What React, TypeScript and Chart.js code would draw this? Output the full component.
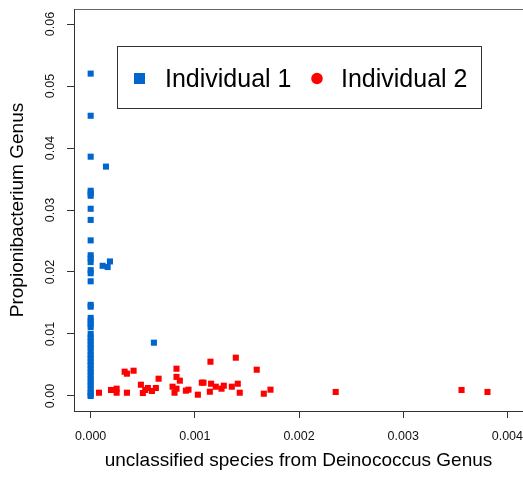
import React, { useEffect, useRef } from "react";
import { Chart, registerables } from "chart.js";

Chart.register(...registerables);

const SERIES_LABELS = ["Individual 1", "Individual 2"];
const SERIES_COLORS = ["#0066CC", "#FF0000"];

const IND1_X = [
  0, 0, 0, 0, 0, 0, 0, 0, 0, 0, 0, 0, 0, 0, 0, 0, 0, 0, 0, 0, 0,
  0, 0, 0, 0, 0, 0, 0, 0, 0, 0, 0, 0, 0, 0, 0, 0, 0, 0, 0, 0,
  0.000147, 0.000115, 0.000163, 0.000185, 0.000607,
];
const IND1_Y = [
  0.052, 0.0452, 0.0386, 0.0331, 0.0327, 0.0323, 0.0302, 0.0284, 0.0251, 0.0227, 0.0222,
  0.0216, 0.0203, 0.0198, 0.0185, 0.0147, 0.0144, 0.0126, 0.0121, 0.0116, 0.0111,
  0.01, 0.0094, 0.0089, 0.0083, 0.0078, 0.0072, 0.0066, 0.0061, 0.0055, 0.005,
  0.0044, 0.0039, 0.0033, 0.0028, 0.0022, 0.0017, 0.0011, 0.0006, 0.0002, 0.0,
  0.037, 0.021, 0.0208, 0.0217, 0.0086,
];

const IND2_X = [
  0.00008, 0.000195, 0.000249, 0.000249, 0.000326, 0.000348, 0.000348, 0.000412,
  0.000482, 0.000501, 0.000524, 0.000549, 0.000588, 0.000626, 0.000652, 0.000786,
  0.000805, 0.000824, 0.000824, 0.000856, 0.000824, 0.000914, 0.000939, 0.001029,
  0.001067, 0.001083, 0.00115, 0.001156, 0.001144, 0.001201, 0.001256, 0.001278,
  0.001355, 0.001393, 0.001412, 0.001431, 0.001594, 0.001662, 0.001726, 0.002352,
  0.00356, 0.003809,
];
const IND2_Y = [
  0.00053, 0.00097, 0.00118, 0.00053, 0.00392, 0.0036, 0.00053, 0.00408,
  0.00182, 0.00048, 0.00097, 0.00129, 0.00081, 0.00129, 0.00279, 0.0015,
  0.00053, 0.0044, 0.00308, 0.00247, 0.00118, 0.00086, 0.00102, 0.00021,
  0.00215, 0.00215, 0.00553, 0.00198, 0.00069, 0.0015, 0.00118, 0.00166,
  0.0015, 0.00618, 0.00198, 0.00053, 0.00424, 0.00037, 0.00102, 0.00065,
  0.00097, 0.00065,
];

const X_TICKS = [0, 0.001, 0.002, 0.003, 0.004];
const Y_TICKS = [0, 0.01, 0.02, 0.03, 0.04, 0.05, 0.06];
const X_RANGE = [-0.00016, 0.00415];
const Y_RANGE = [-0.00242, 0.06242];
const X_TITLE = "unclassified species from Deinococcus Genus";
const Y_TITLE = "Propionibacterium Genus";
const LEGEND_MARKERS = ["rect", "circle"];

const FONT = '"Liberation Sans", Arial, Helvetica, sans-serif';
const AXIS_COLOR = "#333";

const boxLegend = {
  id: "boxLegend",
  afterDraw(chart: any, _args: any, opts: any) {
    const ctx = chart.ctx;
    ctx.save();
    ctx.strokeStyle = "#333";
    ctx.lineWidth = 1;
    ctx.strokeRect(opts.box[0] + 0.5, opts.box[1] + 0.5, opts.box[2], opts.box[3]);
    ctx.font = `${opts.fontSize}px ${FONT}`;
    ctx.textBaseline = "alphabetic";
    ctx.textAlign = "left";
    chart.data.datasets.forEach((ds: any, i: number) => {
      const it = opts.items[i];
      ctx.fillStyle = ds.backgroundColor;
      if (it.marker === "rect") {
        ctx.fillRect(it.mx - it.size / 2, it.my - it.size / 2, it.size, it.size);
      } else {
        ctx.beginPath();
        ctx.arc(it.mx, it.my, it.size / 2, 0, Math.PI * 2);
        ctx.fill();
      }
      ctx.fillStyle = "#000";
      ctx.fillText(ds.label, it.tx, opts.baseline);
    });
    ctx.restore();
  },
};

const noPad = (s: any) => {
  s.paddingLeft = 0;
  s.paddingRight = 0;
  s.paddingTop = 0;
  s.paddingBottom = 0;
};

export default function App() {
  const ref = useRef<HTMLCanvasElement | null>(null);

  useEffect(() => {
    if (!ref.current) return;
    const ind1 = IND1_X.map((x, i) => ({ x, y: IND1_Y[i] }));
    const ind2 = IND2_X.map((x, i) => ({ x, y: IND2_Y[i] }));
    const chart = new Chart(ref.current, {
      type: "scatter",
      data: {
        datasets: [
          {
            label: SERIES_LABELS[0],
            data: ind1,
            backgroundColor: SERIES_COLORS[0],
            pointStyle: "rect",
            pointRadius: 4.3,
            pointBorderWidth: 0,
            order: 1,
          },
          {
            label: SERIES_LABELS[1],
            data: ind2,
            backgroundColor: SERIES_COLORS[1],
            pointStyle: "rect",
            pointRadius: 4.3,
            pointBorderWidth: 0,
            order: 0,
          },
        ],
      },
      options: {
        animation: false,
        responsive: false,
        devicePixelRatio: 1,
        layout: { autoPadding: false, padding: { left: 0, top: 9, right: 0, bottom: 0 } },
        plugins: {
          legend: { display: false },
          tooltip: { enabled: false },
          boxLegend: {
            box: [117, 46, 364, 62],
            fontSize: 25,
            baseline: 87,
            items: [
              { marker: LEGEND_MARKERS[0], mx: 139.5, my: 78.5, size: 11, tx: 165 },
              { marker: LEGEND_MARKERS[1], mx: 317, my: 78.5, size: 11.5, tx: 341 },
            ],
          },
        } as any,
        scales: {
          x: {
            type: "linear",
            position: "bottom",
            min: X_RANGE[0],
            max: X_RANGE[1],
            afterBuildTicks: (s: any) => {
              s.ticks = X_TICKS.map((v) => ({ value: v }));
            },
            afterFit: (s: any) => {
              s.height = 69;
              noPad(s);
            },
            grid: {
              display: true,
              drawOnChartArea: false,
              drawTicks: true,
              tickLength: 7,
              tickColor: AXIS_COLOR,
              lineWidth: 1,
            },
            border: { display: true, color: AXIS_COLOR, width: 1 },
            ticks: {
              autoSkip: false,
              maxRotation: 0,
              minRotation: 0,
              padding: 11,
              color: "#111",
              font: { family: FONT, size: 12.5 },
              callback: (v: any) => Number(v).toFixed(3),
            },
            title: {
              display: true,
              text: X_TITLE,
              color: "#000",
              font: { family: FONT, size: 19 },
              padding: { top: 0, bottom: 8 },
            },
          },
          x2: {
            type: "linear",
            position: "top",
            min: X_RANGE[0],
            max: X_RANGE[1],
            afterFit: (s: any) => {
              s.height = 0;
              noPad(s);
            },
            grid: { display: false },
            border: { display: true, color: "#666", width: 1 },
            ticks: { display: false },
          },
          y: {
            type: "linear",
            position: "left",
            min: Y_RANGE[0],
            max: Y_RANGE[1],
            afterBuildTicks: (s: any) => {
              s.ticks = Y_TICKS.map((v) => ({ value: v }));
            },
            afterFit: (s: any) => {
              s.width = 74;
              noPad(s);
            },
            grid: {
              display: true,
              drawOnChartArea: false,
              drawTicks: true,
              tickLength: 7,
              tickColor: AXIS_COLOR,
              lineWidth: 1,
            },
            border: { display: true, color: AXIS_COLOR, width: 1 },
            ticks: {
              autoSkip: false,
              minRotation: 90,
              maxRotation: 90,
              crossAlign: "center",
              padding: 4,
              color: "#111",
              font: { family: FONT, size: 12.5 },
              callback: (v: any) => Number(v).toFixed(2),
            },
            title: {
              display: true,
              text: Y_TITLE,
              color: "#000",
              font: { family: FONT, size: 19 },
              padding: { top: 6, bottom: 0 },
            },
          },
        },
      },
      plugins: [boxLegend as any],
    });
    return () => chart.destroy();
  }, []);

  return (
    <div
      style={{
        position: "fixed",
        left: 0,
        top: 0,
        width: 523,
        height: 480,
        background: "#fff",
        overflow: "hidden",
      }}
    >
      <canvas ref={ref} width={523} height={480} style={{ display: "block" }} />
    </div>
  );
}
